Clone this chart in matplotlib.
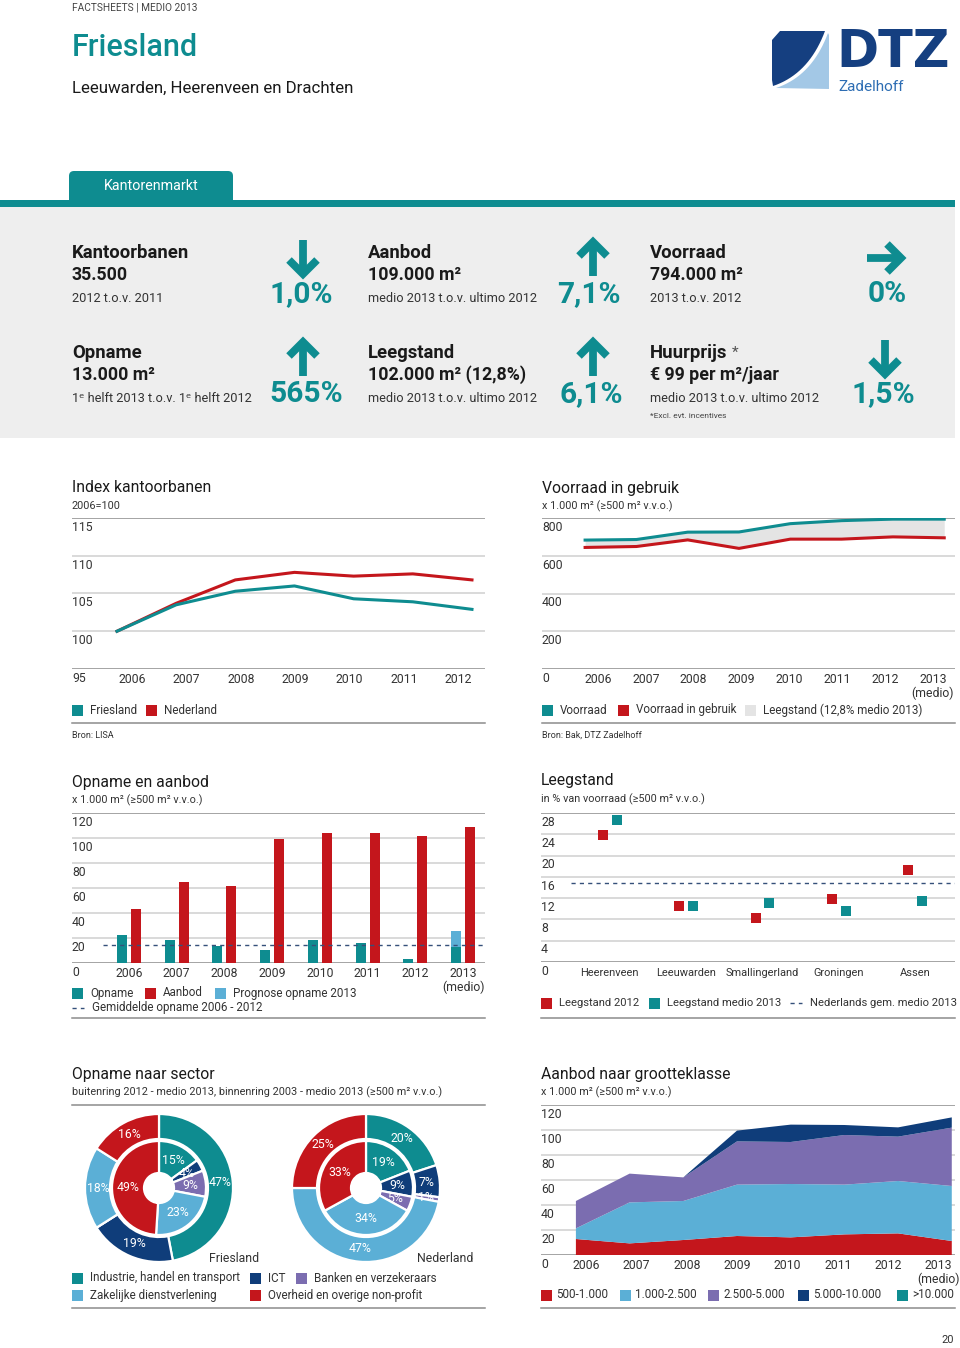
import matplotlib
matplotlib.use("Agg")
import matplotlib.pyplot as plt
import matplotlib.transforms as mtransforms
from matplotlib.patches import Rectangle, FancyBboxPatch, Polygon
import numpy as np

plt.rcParams['font.family'] = ['Roboto', 'DejaVu Sans']

W, H = 960, 1348
TEAL = '#0e8c90'
RED = '#c4161c'
LBLUE = '#5bafd6'
PURPLE = '#7b6db0'
NAVY = '#0f3d7a'
TXT = '#1a1a1a'
GRID = '#cfcfcf'
DARKLINE = '#8c8c8c'
DASH = '#35507a'

# ---- data ----
kpi_titles = ['Kantoorbanen', 'Aanbod', 'Voorraad', 'Opname', 'Leegstand', 'Huurprijs']
kpi_values = ['35.500', '109.000 m²', '794.000 m²', '13.000 m²', '102.000 m² (12,8%)', '€ 99 per m²/jaar']
kpi_subs = ['2012 t.o.v. 2011', 'medio 2013 t.o.v. ultimo 2012', '2013 t.o.v. 2012',
            '1ᵉ helft 2013 t.o.v. 1ᵉ helft 2012', 'medio 2013 t.o.v. ultimo 2012',
            'medio 2013 t.o.v. ultimo 2012']
kpi_pcts = ['1,0%', '7,1%', '0%', '565%', '6,1%', '1,5%']
kpi_dirs = ['down', 'up', 'right', 'up', 'up', 'down']

idx_years = ['2006', '2007', '2008', '2009', '2010', '2011', '2012']
idx_friesland = [100, 103.5, 105.3, 106.0, 104.3, 103.9, 102.9]
idx_nederland = [100, 103.7, 106.8, 107.8, 107.3, 107.6, 106.8]

vr_years = ['2006', '2007', '2008', '2009', '2010', '2011', '2012', '2013\n(medio)']
vr_voorraad = [683, 686, 725, 726, 770, 786, 794, 794]
vr_gebruik = [644, 649, 684, 639, 688, 688, 700, 695]

oa_years = ['2006', '2007', '2008', '2009', '2010', '2011', '2012', '2013\n(medio)']
oa_opname = [22.7, 18.7, 13.9, 10.7, 18.7, 15.7, 3.5, 13.0]
oa_prognose = [0, 0, 0, 0, 0, 0, 0, 13.0]
oa_aanbod = [42.9, 64.8, 61.9, 98.9, 104.0, 104.0, 101.9, 109.0]
oa_gem = 14.8

lg_cities = ['Heerenveen', 'Leeuwarden', 'Smallingerland', 'Groningen', 'Assen']
lg_2012 = [23.8, 10.6, 8.2, 11.8, 17.2]
lg_2013 = [26.6, 10.5, 11.1, 9.6, 11.4]
lg_nl = 14.8

sectors = ['Industrie, handel en transport', 'ICT', 'Banken en verzekeraars',
           'Zakelijke dienstverlening', 'Overheid en overige non-profit']
sector_colors = [TEAL, NAVY, PURPLE, LBLUE, RED]
fr_outer = [47, 19, 0, 18, 16]
fr_inner = [15, 4, 9, 23, 49]
nl_outer = [20, 7, 1, 47, 25]
nl_inner = [19, 9, 5, 34, 33]

gk_years = ['2006', '2007', '2008', '2009', '2010', '2011', '2012', '2013\n(medio)']
gk_500 = [12.8, 9.3, 12.0, 15.2, 14.1, 16.5, 17.3, 11.2]
gk_1000 = [8.5, 32.8, 31.2, 41.1, 42.7, 39.8, 41.9, 44.0]
gk_2500 = [21.9, 23.0, 18.9, 34.6, 33.6, 39.7, 35.5, 46.7]
gk_5000 = [0, 0, 0, 8.6, 13.9, 8.0, 7.4, 8.2]
gk_10000 = [0, 0, 0, 0, 0, 0, 0, 0]
gk_labels = ['500-1.000', '1.000-2.500', '2.500-5.000', '5.000-10.000', '>10.000']
gk_colors = [RED, LBLUE, PURPLE, NAVY, TEAL]

fig = plt.figure(figsize=(W / 100, H / 100), dpi=100)
fig.patch.set_facecolor('white')

bg = fig.add_axes([0, 0, 1, 1])
bg.set_xlim(0, W)
bg.set_ylim(H, 0)
bg.axis('off')


def add_ax(x0, y0, x1, y1):
    ax = fig.add_axes([x0 / W, 1 - y1 / H, (x1 - x0) / W, (y1 - y0) / H])
    ax.set_facecolor('none')
    for sp in ax.spines.values():
        sp.set_visible(False)
    ax.tick_params(left=False, bottom=False, labelleft=False, labelbottom=False)
    return ax


def grid_labels(ax, ticks, fmt=str):
    tr = mtransforms.blended_transform_factory(ax.transAxes, ax.transData)
    top, bottom = max(ticks), min(ticks)
    for v in ticks:
        col = DARKLINE if v in (top, bottom) else GRID
        ax.axhline(v, color=col, lw=1.1, zorder=0)
        ax.annotate(fmt(v), xy=(0, v), xycoords=tr, xytext=(0, -2),
                    textcoords='offset points', ha='left', va='top',
                    fontsize=8.8, color='#333333')


def year_labels(ax, xs, labels, ymin):
    for x, l in zip(xs, labels):
        ax.annotate(l, xy=(x, ymin), xycoords='data', xytext=(0, -3),
                    textcoords='offset points', ha='center', va='top',
                    fontsize=8.8, color='#333333', linespacing=1.0)


def legend_box(x, y, color, label, fs=8.4):
    bg.add_patch(Rectangle((x, y - 5.5), 11, 11, color=color, lw=0))
    bg.text(x + 18, y, label, fontsize=fs, va='center', ha='left', color='#333333')


def legend_dash(x, y, label, fs=8.4):
    bg.plot([x, x + 12], [y, y], color=DASH, lw=1, dashes=(3, 3))
    bg.text(x + 20, y, label, fontsize=fs, va='center', ha='left', color='#333333')


def arrow(cx, cy, d):
    L = 18
    lw = 5.6
    hw = 14
    if d == 'down':
        bg.plot([cx, cx], [cy - L, cy + L - 3], color=TEAL, lw=lw, solid_capstyle='butt')
        bg.plot([cx - hw, cx, cx + hw], [cy + L - 16, cy + L - 2, cy + L - 16], color=TEAL,
                lw=lw, solid_joinstyle='miter', solid_capstyle='butt')
    elif d == 'up':
        bg.plot([cx, cx], [cy + L, cy - L + 3], color=TEAL, lw=lw, solid_capstyle='butt')
        bg.plot([cx - hw, cx, cx + hw], [cy - L + 16, cy - L + 2, cy - L + 16], color=TEAL,
                lw=lw, solid_joinstyle='miter', solid_capstyle='butt')
    else:
        bg.plot([cx - L, cx + L - 3], [cy, cy], color=TEAL, lw=lw, solid_capstyle='butt')
        bg.plot([cx + L - 16, cx + L - 2, cx + L - 16], [cy - hw, cy, cy + hw], color=TEAL,
                lw=lw, solid_joinstyle='miter', solid_capstyle='butt')


# ---- header ----
bg.text(72, 7, 'FACTSHEETS | MEDIO 2013', fontsize=7.3, color='#444444', va='center')
bg.text(72, 47, 'Friesland', fontsize=22, color=TEAL, va='center', fontweight='medium')
bg.text(72, 88, 'Leeuwarden, Heerenveen en Drachten', fontsize=12.2, color=TXT, va='center')

# logo
t = np.linspace(0, 1, 20)
p0, p1, p2 = np.array([828, 33]), np.array([812, 76]), np.array([776, 88])
curve = ((1 - t) ** 2)[:, None] * p0 + (2 * t * (1 - t))[:, None] * p1 + (t ** 2)[:, None] * p2
dark = np.vstack([[[780, 31], [826, 31]], curve - [3, 2], [[772, 80], [772, 40]]])
light = np.vstack([curve, [[829, 89], [829, 35]]])
bg.add_patch(Polygon(dark, closed=True, color='#153f80', lw=0))
bg.add_patch(Polygon(light, closed=True, color='#a3c8e6', lw=0))
bg.text(836, 53, 'DTZ', fontsize=36.5, fontweight='bold', color='#153f80', va='center',
        ha='left', family='DejaVu Sans')
bg.text(838, 87, 'Zadelhoff', fontsize=11, color='#2d6db3', va='center', ha='left')

# tab + panel
bg.add_patch(FancyBboxPatch((69, 171), 164, 40, boxstyle='round,pad=0,rounding_size=5',
                            color=TEAL, lw=0))
bg.text(104, 186, 'Kantorenmarkt', fontsize=10.3, color='white', va='center')
bg.add_patch(Rectangle((0, 206), 955, 232, color='#eeeeee', lw=0))
bg.add_patch(Rectangle((0, 200), 955, 7, color=TEAL, lw=0))

col_x = [72, 368, 650]
pct_x = [[333, 621, 907], [343, 623, 915]]
arr_x = [303, 593, 885]
row_y = [253, 353]
for i in range(6):
    r, c = divmod(i, 3)
    y = row_y[r]
    bg.text(col_x[c], y, kpi_titles[i], fontsize=13.3, fontweight='bold', color=TXT, va='center')
    bg.text(col_x[c], y + 22, kpi_values[i], fontsize=12.8, fontweight='bold', color=TXT, va='center')
    bg.text(col_x[c], y + 45, kpi_subs[i], fontsize=9.2, color='#333333', va='center')
    bg.text(pct_x[r][c], y + 41, kpi_pcts[i], fontsize=21.5, fontweight='bold', color=TEAL,
            va='center', ha='right')
    arrow(arr_x[c], y + 5, kpi_dirs[i])
bg.text(732, 353, '*', fontsize=11, color='#555555', va='center')
bg.text(650, 416, '*Excl. evt. incentives', fontsize=6, color='#444444', va='center')

# ---- Index kantoorbanen ----
bg.text(72, 488, 'Index kantoorbanen', fontsize=11.3, color=TXT, va='center')
bg.text(72, 506, '2006=100', fontsize=7.8, color='#333333', va='center')
ax = add_ax(72, 518, 485, 669)
x = np.arange(len(idx_years))
ax.plot(x, idx_nederland, color=RED, lw=2.2)
ax.plot(x, idx_friesland, color=TEAL, lw=2.2)
ax.set_xlim(-0.76, 6.22)
ax.set_ylim(95, 115)
grid_labels(ax, [95, 100, 105, 110, 115])
year_labels(ax, 0.25 + x * 0.921, idx_years, 95)
legend_box(72, 710, TEAL, 'Friesland')
legend_box(146, 710, RED, 'Nederland')
bg.plot([72, 485], [723, 723], color=DARKLINE, lw=1.1)
bg.text(72, 735, 'Bron: LISA', fontsize=6.5, color='#333333', va='center')

# ---- Voorraad in gebruik ----
bg.text(542, 488, 'Voorraad in gebruik', fontsize=11.3, color=TXT, va='center')
bg.text(542, 506, 'x 1.000 m² (≥500 m² v.v.o.)', fontsize=7.8, color='#333333', va='center')
ax = add_ax(542, 518, 955, 669)
x = np.arange(len(vr_years))
ax.fill_between(x, vr_gebruik, vr_voorraad, color='#e4e4e4', lw=0)
ax.plot(x, vr_gebruik, color=RED, lw=2.2)
ax.plot(x, vr_voorraad, color=TEAL, lw=2.2)
ax.set_xlim(-0.84, 7.21)
ax.set_ylim(0, 800)
grid_labels(ax, [0, 200, 400, 600, 800])
year_labels(ax, 0.25 + x * 0.933, vr_years, 0)
legend_box(542, 710, TEAL, 'Voorraad')
legend_box(618, 710, RED, 'Voorraad in gebruik')
legend_box(745, 710, '#e4e4e4', 'Leegstand (12,8% medio 2013)')
bg.plot([542, 955], [723, 723], color=DARKLINE, lw=1.1)
bg.text(542, 735, 'Bron: Bak, DTZ Zadelhoff', fontsize=6.5, color='#333333', va='center')

# ---- Opname en aanbod ----
bg.text(72, 782, 'Opname en aanbod', fontsize=11.3, color=TXT, va='center')
bg.text(72, 800, 'x 1.000 m² (≥500 m² v.v.o.)', fontsize=7.8, color='#333333', va='center')
ax = add_ax(72, 813, 485, 963)
x = np.arange(len(oa_years))
ax.bar(x - 0.147, oa_opname, width=0.21, color=TEAL, lw=0, zorder=2)
ax.bar(x - 0.147, oa_prognose, width=0.21, bottom=oa_opname, color=LBLUE, lw=0, zorder=2)
ax.bar(x + 0.147, oa_aanbod, width=0.21, color=RED, lw=0, zorder=2)
ax.plot([-0.55, 7.46], [oa_gem, oa_gem], color=DASH, lw=1, dashes=(3, 3), zorder=3)
ax.set_xlim(-1.19, 7.46)
ax.set_ylim(0, 120)
grid_labels(ax, [0, 20, 40, 60, 80, 100, 120])
year_labels(ax, x, oa_years, 0)
legend_box(72, 993, TEAL, 'Opname')
legend_box(145, 993, RED, 'Aanbod')
legend_box(215, 993, LBLUE, 'Prognose opname 2013')
legend_dash(72, 1008, 'Gemiddelde opname 2006 - 2012')
bg.plot([72, 485], [1018, 1018], color=DARKLINE, lw=1.1)

# ---- Leegstand ----
bg.text(541, 781, 'Leegstand', fontsize=11.3, color=TXT, va='center')
bg.text(541, 799, 'in % van voorraad (≥500 m² v.v.o.)', fontsize=7.8, color='#333333', va='center')
ax = add_ax(541, 813, 955, 962)
x = np.arange(len(lg_cities))
ax.plot([-0.51, 4.52], [lg_nl, lg_nl], color=DASH, lw=1, dashes=(3, 3), zorder=1)
ax.plot(x - 0.09, lg_2012, 's', color=RED, ms=7.5, mew=0, zorder=3)
ax.plot(x + 0.09, lg_2013, 's', color=TEAL, ms=7.5, mew=0, zorder=3)
ax.set_xlim(-0.9, 4.52)
ax.set_ylim(0, 28)
grid_labels(ax, [0, 4, 8, 12, 16, 20, 24, 28])
for xi, c in zip(x, lg_cities):
    ax.annotate(c, xy=(xi, 0), xytext=(0, -4), textcoords='offset points', ha='center',
                va='top', fontsize=7.9, color='#333333')
legend_box(541, 1003, RED, 'Leegstand 2012', fs=8.1)
legend_box(649, 1003, TEAL, 'Leegstand medio 2013', fs=8.1)
legend_dash(790, 1003, 'Nederlands gem. medio 2013', fs=8.1)
bg.plot([541, 955], [1018, 1018], color=DARKLINE, lw=1.1)

# ---- Opname naar sector ----
bg.text(72, 1074, 'Opname naar sector', fontsize=11.3, color=TXT, va='center')
bg.text(72, 1092, 'buitenring 2012 - medio 2013, binnenring 2003 - medio 2013 (≥500 m² v.v.o.)',
        fontsize=7.8, color='#333333', va='center')
bg.plot([72, 485], [1105, 1105], color=DARKLINE, lw=1.1)


def donut(cx, cy, outer, inner):
    a = add_ax(cx - 80, cy - 80, cx + 80, cy + 80)
    wp = dict(edgecolor='white', linewidth=1.6)
    a.pie(outer, radius=74, colors=sector_colors, startangle=90, counterclock=False,
          wedgeprops=dict(width=25, **wp))
    a.pie(inner, radius=47, colors=sector_colors, startangle=90, counterclock=False,
          wedgeprops=dict(width=32, **wp))
    a.set_xlim(-80, 80)
    a.set_ylim(-80, 80)
    a.set_aspect('equal')
    for vals, r in ((outer, 61), (inner, 31)):
        cum = 0
        for v in vals:
            if v > 0:
                ang = np.deg2rad(90 - 360 * (cum + v / 2) / 100)
                a.text(r * np.cos(ang), r * np.sin(ang), f'{v}%', ha='center', va='center',
                       fontsize=8.8, color='white')
            cum += v


donut(159, 1188, fr_outer, fr_inner)
donut(366, 1188, nl_outer, nl_inner)
bg.text(259, 1258, 'Friesland', fontsize=8.8, color='#333333', va='center', ha='right')
bg.text(473, 1258, 'Nederland', fontsize=8.8, color='#333333', va='center', ha='right')
legend_box(72, 1278, sector_colors[0], sectors[0])
legend_box(250, 1278, sector_colors[1], sectors[1])
legend_box(296, 1278, sector_colors[2], sectors[2])
legend_box(72, 1295, sector_colors[3], sectors[3])
legend_box(250, 1295, sector_colors[4], sectors[4])
bg.plot([72, 485], [1308, 1308], color=DARKLINE, lw=1.1)

# ---- Aanbod naar grootteklasse ----
bg.text(541, 1074, 'Aanbod naar grootteklasse', fontsize=11.3, color=TXT, va='center')
bg.text(541, 1092, 'x 1.000 m² (≥500 m² v.v.o.)', fontsize=7.8, color='#333333', va='center')
ax = add_ax(541, 1105, 955, 1255)
x = np.arange(len(gk_years))
ax.stackplot(x, gk_500, gk_1000, gk_2500, gk_5000, gk_10000, colors=gk_colors, lw=0, zorder=2)
ax.set_xlim(-0.65, 7.06)
ax.set_ylim(0, 120)
grid_labels(ax, [0, 20, 40, 60, 80, 100, 120])
year_labels(ax, 0.19 + x * 0.938, gk_years, 0)
for lx, c, l in zip([541, 620, 708, 798, 897], gk_colors, gk_labels):
    bg.add_patch(Rectangle((lx, 1295 - 5.5), 11, 11, color=c, lw=0))
    bg.text(lx + 15, 1295, l, fontsize=8.4, va='center', ha='left', color='#333333')
bg.plot([541, 955], [1308, 1308], color=DARKLINE, lw=1.1)

bg.text(954, 1340, '20', fontsize=8, color='#333333', va='center', ha='right')

fig.savefig('out.png', dpi=100)
